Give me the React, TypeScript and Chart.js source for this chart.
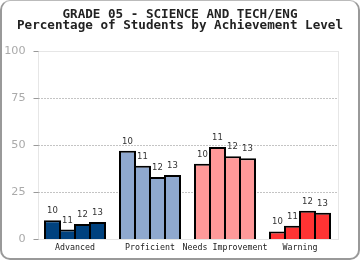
import React, { useEffect, useRef } from "react";
import { Chart, registerables } from "chart.js";

Chart.register(...registerables);

const categories = ["Advanced", "Proficient", "Needs Improvement", "Warning"];
const years = ["10", "11", "12", "13"];
const values10 = [10, 47, 40, 4];
const values11 = [5, 39, 49, 7];
const values12 = [8, 33, 44, 15];
const values13 = [9, 34, 43, 14];
const seriesValues = [values10, values11, values12, values13];
const categoryColors = ["#00427f", "#8fa8cf", "#ff9999", "#ff3333"];
const yTicks = [0, 25, 50, 75, 100];
const titleLines = ["GRADE 05 - SCIENCE AND TECH/ENG", "Percentage of Students by Achievement Level"];

const boxPlugin = {
  id: "boxPlugin",
  beforeDatasetsDraw(chart: any) {
    const { ctx, chartArea, scales } = chart;
    ctx.save();
    const t = Math.round(chartArea.top) + 0.5;
    const b = Math.round(chartArea.bottom) + 0.5;
    const l = Math.round(chartArea.left) + 0.5;
    const r = Math.round(chartArea.right) + 0.5;
    // chart area box
    ctx.strokeStyle = "#e6e6e6";
    ctx.lineWidth = 1;
    ctx.strokeRect(l, t, r - l, b - t);
    // dotted gridlines
    ctx.strokeStyle = "#888";
    ctx.setLineDash([1, 2]);
    for (const v of yTicks) {
      if (v === 0 || v === 100) continue;
      const y = Math.round(scales.y.getPixelForValue(v)) + 0.5;
      ctx.beginPath();
      ctx.moveTo(l, y);
      ctx.lineTo(r, y);
      ctx.stroke();
    }
    ctx.setLineDash([]);
    // tick marks
    ctx.strokeStyle = "#999";
    for (const v of yTicks) {
      const y = Math.round(scales.y.getPixelForValue(v)) + 0.5;
      ctx.beginPath();
      ctx.moveTo(l - 5, y);
      ctx.lineTo(l, y);
      ctx.stroke();
    }
    ctx.restore();
  },
  afterDatasetsDraw(chart: any) {
    const { ctx } = chart;
    ctx.save();
    ctx.font = "8.5px 'DejaVu Sans'";
    ctx.fillStyle = "#333";
    ctx.textAlign = "center";
    ctx.textBaseline = "alphabetic";
    chart.data.datasets.forEach((ds: any, i: number) => {
      const meta = chart.getDatasetMeta(i);
      meta.data.forEach((bar: any) => {
        ctx.fillText(ds.label, bar.x, bar.y - 7);
      });
    });
    ctx.restore();
  },
  afterDraw(chart: any) {
    const { ctx } = chart;
    ctx.save();
    ctx.font = "bold 12.6px 'DejaVu Sans Mono'";
    ctx.fillStyle = "#222";
    ctx.textAlign = "center";
    ctx.textBaseline = "alphabetic";
    ctx.fillText(titleLines[0], 180, 17.5);
    ctx.fillText(titleLines[1], 180, 28.5);
    ctx.restore();
  },
};

export default function App() {
  const ref = useRef<HTMLCanvasElement>(null);
  useEffect(() => {
    document.body.style.margin = "0";
    const chart = new Chart(ref.current as HTMLCanvasElement, {
      type: "bar",
      data: {
        labels: categories,
        datasets: years.map((y, i) => ({
          label: y,
          data: seriesValues[i],
          backgroundColor: categoryColors,
          borderColor: "#000",
          borderWidth: 2,
          barPercentage: 17 / 15,
          categoryPercentage: 0.8,
        })),
      },
      options: {
        animation: false,
        responsive: false,
        maintainAspectRatio: false,
        layout: { padding: { top: 51, right: 22.5, left: 0, bottom: 0 } },
        plugins: { legend: { display: false }, tooltip: { enabled: false }, title: { display: false } },
        scales: {
          x: {
            grid: { display: false, drawTicks: false },
            border: { display: false },
            ticks: { color: "#222", font: { family: "'DejaVu Sans Mono'", size: 8.3 }, padding: 4, maxRotation: 0, autoSkip: false },
            afterFit: (s: any) => { s.height = 21; },
          },
          y: {
            min: 0,
            max: 100,
            grid: { display: false, drawTicks: false },
            border: { display: false },
            afterBuildTicks: (s: any) => { s.ticks = yTicks.map((v) => ({ value: v })); },
            ticks: { color: "#aaa", font: { family: "'DejaVu Sans'", size: 11.2 }, padding: 12 },
            afterFit: (s: any) => { s.width = 37.5; },
          },
        },
      },
      plugins: [boxPlugin],
    });
    return () => chart.destroy();
  }, []);
  return (
    <div style={{ position: "relative", width: 360, height: 260 }}>
      <canvas ref={ref} width={360} height={260} style={{ display: "block" }} />
      <div
        style={{
          position: "absolute",
          left: 0,
          top: 0,
          width: 360,
          height: 260,
          boxSizing: "border-box",
          borderTop: "1px solid #bbb",
          borderRight: "2px solid #999",
          borderBottom: "2px solid #999",
          borderLeft: "2px solid #999",
          borderRadius: 10,
          pointerEvents: "none",
        }}
      />
    </div>
  );
}
